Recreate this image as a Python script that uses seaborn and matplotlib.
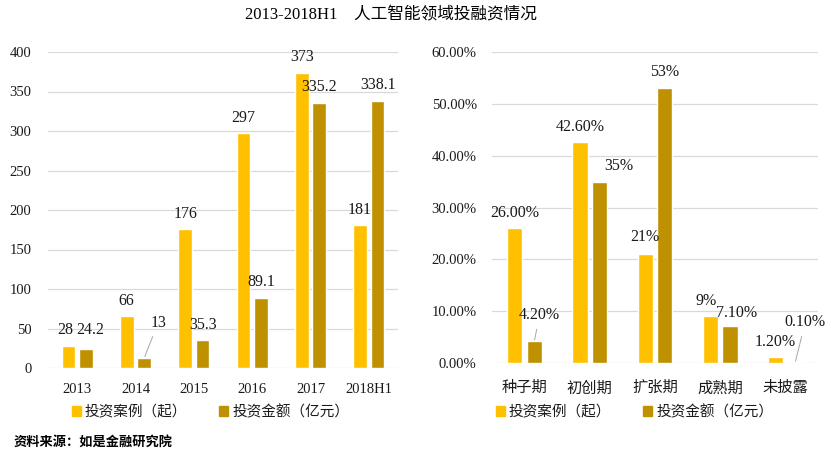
"""
AI investment and financing overview, 2013-2018H1 (two bar panels).
"""
import numpy as np
import pandas as pd
import matplotlib
matplotlib.use("Agg")
import matplotlib.pyplot as plt
import seaborn as sns

# ---- data -------------------------------------------------------------
years = ["2013", "2014", "2015", "2016", "2017", "2018H1"]
deals_by_year = [28, 66, 176, 297, 373, 181]
amount_by_year = [24.2, 13, 35.3, 89.1, 335.2, 338.1]
deals_year_labels = ["28", "66", "176", "297", "373", "181"]
amount_year_labels = ["24.2", "13", "35.3", "89.1", "335.2", "338.1"]

stages = ["种子期", "初创期", "扩张期", "成熟期", "未披露"]
deals_by_stage = [26.0, 42.6, 21.0, 9.0, 1.2]
amount_by_stage = [4.2, 35.0, 53.0, 7.1, 0.1]
deals_stage_labels = ["26.00%", "42.60%", "21%", "9%", "1.20%"]
amount_stage_labels = ["4.20%", "35%", "53%", "7.10%", "0.10%"]

series_names = ["投资案例（起）", "投资金额（亿元）"]

# ---- style ------------------------------------------------------------
sns.set_theme(style="white")
FONT = ["Liberation Serif", "Noto Sans CJK SC", "DejaVu Sans"]
plt.rcParams["font.family"] = FONT
plt.rcParams["axes.unicode_minus"] = False

COLORS = ["#FFC000", "#BF9000"]
GRID = "#D9D9D9"
TXT = "#1a1a1a"

# label offsets (pixels) per bar: (dx, dy, leader line)
left_offsets = [
    [(-3, 16, False), (0, 15, False), (0, 15, False), (0, 15, False), (0, 16, False), (0, 15, False)],
    [(4, 19, False), (14, 35, True), (0, 15, False), (0, 16, False), (0, 16, False), (0, 16, False)],
]
right_offsets = [
    [(0, 15, False), (0, 15, False), (0, 17, False), (-4, 15, False), (0, 15, False)],
    [(5, 26, True), (19, 16, False), (0, 16, False), (7, 13, False), (10, 40, True)],
]


def draw_panel(ax, cats, a, b, labels_a, labels_b, offsets):
    df = pd.DataFrame({
        "cat": cats * 2,
        "value": list(a) + list(b),
        "series": [series_names[0]] * len(cats) + [series_names[1]] * len(cats),
    })
    sns.barplot(data=df, x="cat", y="value", hue="series", palette=COLORS,
                width=0.6, gap=0.22, saturation=1, legend=False, ax=ax)
    ax.set_xlim(-0.5, len(cats) - 0.5)
    ax.set_xlabel("")
    ax.set_ylabel("")
    ax.grid(True, axis="y", color=GRID, linewidth=0.9)
    ax.set_axisbelow(True)
    for s in ax.spines.values():
        s.set_visible(False)
    ax.tick_params(length=0, labelsize=10.5, colors=TXT)

    for cont, labs, offs in zip(ax.containers, [labels_a, labels_b], offsets):
        for bar, lab, (dx, dy, lead) in zip(cont, labs, offs):
            xc = bar.get_x() + bar.get_width() / 2
            top = bar.get_height()
            kw = {}
            if lead:
                kw["arrowprops"] = dict(arrowstyle="-", color="#A6A6A6", lw=0.7,
                                        shrinkA=2, shrinkB=1)
            ax.annotate(lab, xy=(xc, top), xytext=(dx, dy),
                        textcoords="offset pixels", ha="center", va="center",
                        fontsize=11.5, color=TXT, **kw)

    handles = [plt.Rectangle((0, 0), 1, 1, color=c) for c in COLORS]
    return handles


fig = plt.figure(figsize=(8.31, 4.55), dpi=100)
ax1 = fig.add_axes([48 / 831, 1 - 368 / 455, 350 / 831, 316 / 455])
ax2 = fig.add_axes([492 / 831, 1 - 363 / 455, 326 / 831, 311 / 455])

h1 = draw_panel(ax1, years, deals_by_year, amount_by_year,
                deals_year_labels, amount_year_labels, left_offsets)
ax1.set_ylim(0, 400)
ax1.set_yticks(np.arange(0, 401, 50))
ax1.tick_params(axis="y", pad=12)
ax1.tick_params(axis="x", pad=11)

h2 = draw_panel(ax2, stages, deals_by_stage, amount_by_stage,
                deals_stage_labels, amount_stage_labels, right_offsets)
ax2.set_ylim(0, 60)
ax2.set_yticks(np.arange(0, 61, 10))
ax2.set_yticklabels([f"{v:.2f}%" for v in np.arange(0, 61, 10)])
ax2.tick_params(axis="y", pad=11)
ax2.tick_params(axis="x", pad=13, labelsize=11)

leg_kw = dict(ncol=2, frameon=False, loc="center left", fontsize=10.5,
              handlelength=0.6, handleheight=0.6, handletextpad=0.3,
              columnspacing=2.2, borderaxespad=0, labelcolor=TXT)
fig.legend(h1, series_names, bbox_to_anchor=(66 / 831, 1 - 412 / 455), **leg_kw)
fig.legend(h2, series_names, bbox_to_anchor=(490 / 831, 1 - 412 / 455), **leg_kw)

fig.text(391 / 831, 1 - 15 / 455, "2013-2018H1\u3000人工智能领域投融资情况",
         ha="center", va="center", fontsize=12, color="black")
fig.text(14 / 831, 1 - 442 / 455, "资料来源：如是金融研究院",
         ha="left", va="center", fontsize=9.5, color="black", fontweight="bold")

plt.savefig("out.png", dpi=100)
